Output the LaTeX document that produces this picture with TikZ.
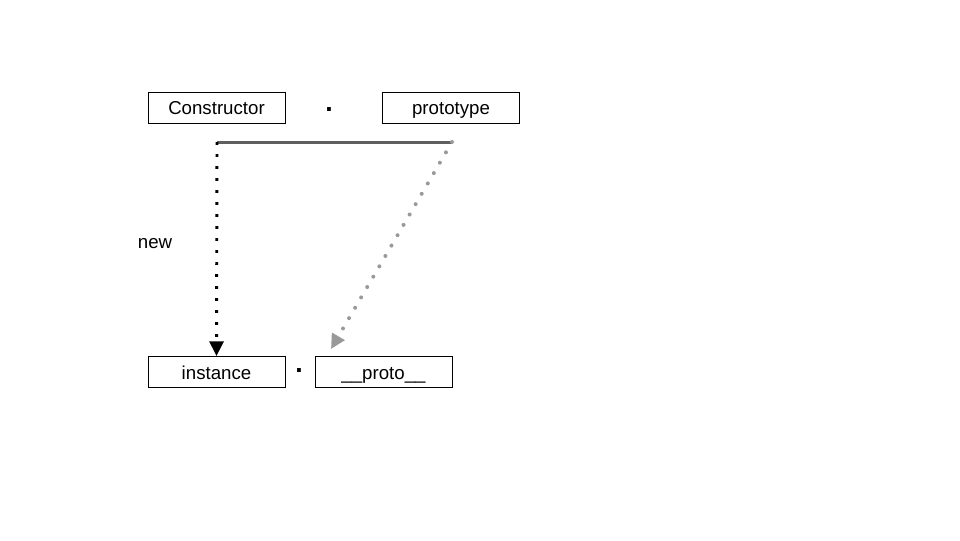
\documentclass[tikz,border=0pt]{standalone}
\usepackage{fontspec}
\setmainfont{Liberation Sans}
\usetikzlibrary{arrows.meta}

\begin{document}
\begin{tikzpicture}[x=0.75pt,y=-0.75pt,
	objbox/.style={draw,line width=0.75pt,minimum width=102.75pt,minimum height=23.25pt,inner sep=0pt,text height=11pt,text depth=0pt,font=\fontsize{14}{16}\selectfont},
	sep/.style={inner sep=0pt,font=\fontsize{20}{20}\selectfont\bfseries},
	linkline/.style={line width=2.25pt,color={rgb,255:red,95;green,95;blue,95}},
	newline/.style={line width=2.2pt,dash pattern=on 2.2pt off 6.8pt,-{Triangle[width=10.5pt,length=11pt]}},
	protoline/.style={line width=3pt,line cap=round,dash pattern=on 0pt off 9pt,color={rgb,255:red,153;green,153;blue,153},-{Triangle[width=10.5pt,length=11pt]}}]
	\useasboundingbox (0,0) rectangle (960,540);
	\node[objbox] (ctor) at (216.5,107.5) {Constructor};
	\node[objbox] (proto) at (451,107.5) {prototype};
	\node[objbox] (inst) at (216.5,372) {instance};
	\node[objbox] (iproto) at (383.5,372) {\_\_proto\_\_};
	\node[sep] (dot1) at (329,110) {.};
	\node[sep] (dot2) at (299,371) {.};
	\node[font=\fontsize{14}{16}\selectfont] (newlbl) at (155,244) {new};
	% the link between both boxes
	\coordinate (hl) at (217,142);
	\coordinate (hr) at (452,142);
	\coordinate (tip) at (331,349);
	\draw[linkline] (hl) -- (hr);
	\draw[newline] (hl) -- (inst.north);
	\draw[protoline] (hr) -- (tip);
\end{tikzpicture}
\end{document}
